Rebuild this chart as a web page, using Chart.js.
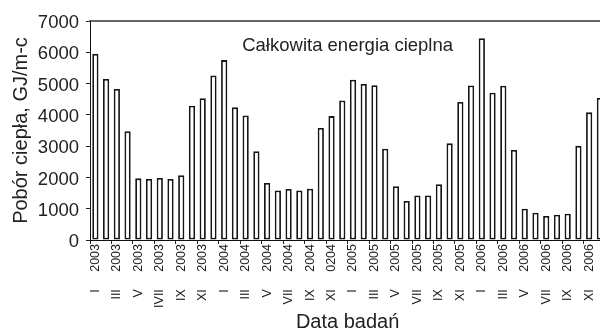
<!DOCTYPE html>
<html>
<head>
<meta charset="utf-8">
<script src="https://cdn.jsdelivr.net/npm/chart.js@4/dist/chart.umd.min.js"></script>
<style>
html, body { margin: 0; padding: 0; overflow: hidden; background: #fff; }
#wrap { width: 615px; height: 331px; }
</style>
</head>
<body>
<div id="wrap"><canvas id="myChart"></canvas></div>
<script>
const years = ['2003', '2004', '2005', '2006'];
const months = ['I', 'II', 'III', 'IV', 'V', 'VI', 'VII', 'VIII', 'IX', 'X', 'XI', 'XII'];
const categories = years.flatMap(y => months.map(m => m + ' ' + y));

// monthly heat consumption, GJ/month
const heatValues = [
    5950, 5150, 4830, 3480, 1970, 1950, 1980, 1950, 2070, 4290, 4530, 5260,
    5750, 4240, 3980, 2840, 1820, 1580, 1630, 1580, 1640, 3580, 3960, 4460,
    5120, 4990, 4950, 2920, 1720, 1250, 1420, 1420, 1780, 3090, 4410, 4940,
    6450, 4710, 4930, 2880, 1000, 870, 770, 810, 840, 3010, 4080, 4540
];

// labels under every second bar, as printed on the original
const tickLabels = [
    'I 2003', 'III 2003', 'V 2003', 'IVII 2003', 'IX 2003', 'XI 2003',
    'I 2004', 'III 2004', 'V 2004', 'VII 2004', 'IX 2004', 'XI 0204',
    'I 2005', 'III 2005', 'V 2005', 'VII 2005', 'IX 2005', 'XI 2005',
    'I 2006', 'III 2006', 'V 2006', 'VII 2006', 'IX 2006', 'XI 2006'
];

const chartTitle = 'Całkowita energia cieplna';
const yTitle = 'Pobór ciepła, GJ/m-c';
const xTitle = 'Data badań';

const FONT = '"Liberation Sans", Arial, sans-serif';

const innerTitle = {
    id: 'innerTitle',
    afterDraw(chart) {
        const { ctx, chartArea } = chart;
        ctx.save();
        ctx.font = '18.5px ' + FONT;
        ctx.fillStyle = '#222';
        ctx.textAlign = 'center';
        ctx.textBaseline = 'alphabetic';
        ctx.fillText(chartTitle, (chartArea.left + chartArea.right) / 2, chartArea.top + 30);
        ctx.restore();
    }
};

const ctx = document.getElementById('myChart').getContext('2d');

new Chart(ctx, {
    type: 'bar',
    data: {
        labels: categories,
        datasets: [{
            data: heatValues,
            backgroundColor: '#fff',
            borderColor: '#151515',
            borderWidth: 1.8,
            borderSkipped: false,
            categoryPercentage: 1,
            barPercentage: 0.58
        }]
    },
    options: {
        responsive: true,
        maintainAspectRatio: false,
        animation: false,
        layout: { padding: { top: 21, right: 7, bottom: 0, left: 0 } },
        plugins: {
            legend: { display: false },
            tooltip: { enabled: false }
        },
        scales: {
            x: {
                grid: {
                    offset: true,
                    drawOnChartArea: false,
                    tickLength: 4,
                    tickColor: c => (c.index % 2 === 0 ? '#222' : 'rgba(0,0,0,0)')
                },
                border: { color: '#111', width: 1 },
                ticks: {
                    autoSkip: false,
                    maxRotation: 90,
                    minRotation: 90,
                    padding: 0,
                    color: '#1a1a1a',
                    font: { family: FONT, size: 12.5 },
                    callback: (v, i) => (i % 2 === 0 ? tickLabels[i / 2].replace(' ', '     ') : '')
                },
                title: {
                    display: true,
                    text: xTitle,
                    color: '#222',
                    font: { family: FONT, size: 20 },
                    padding: { top: 0, bottom: -3 }
                },
                afterFit: s => { s.height = 91; }
            },
            x2: {
                type: 'linear',
                position: 'top',
                min: 0,
                max: 1,
                grid: { display: false },
                ticks: { display: false },
                border: { color: '#666', width: 2 },
                afterFit: s => { s.height = 0; }
            },
            y: {
                min: 0,
                max: 7000,
                ticks: {
                    stepSize: 1000,
                    padding: 7,
                    labelOffset: 2,
                    color: '#222',
                    font: { family: FONT, size: 18.5 },
                    callback: v => String(v)
                },
                grid: {
                    drawOnChartArea: false,
                    tickLength: 4,
                    tickColor: '#222'
                },
                border: { color: '#111', width: 1 },
                title: {
                    display: true,
                    text: yTitle,
                    color: '#222',
                    font: { family: FONT, size: 20 },
                    padding: { top: 9, bottom: 0 }
                },
                afterFit: s => { s.width = 90; }
            }
        }
    },
    plugins: [innerTitle]
});
</script>
</body>
</html>
